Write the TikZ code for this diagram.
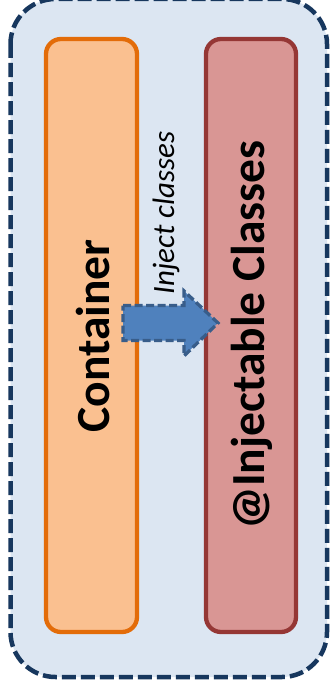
\documentclass[tikz,border=0pt]{standalone}
\usepackage{fontspec}
\setmainfont{Carlito}
\usetikzlibrary{calc}
\definecolor{outerfill}{HTML}{DCE6F2}
\definecolor{outerline}{HTML}{17375E}
\definecolor{contfill}{HTML}{FAC090}
\definecolor{contline}{HTML}{E36C09}
\definecolor{injfill}{HTML}{D99694}
\definecolor{injline}{HTML}{953735}
\definecolor{arrfill}{HTML}{4F81BD}
\definecolor{arrline}{HTML}{385D8A}
\begin{document}
\begin{tikzpicture}[x=1pt,y=-1pt,
  outerbox/.style={draw=outerline,fill=outerfill,line width=4.5pt,dash pattern=on 14pt off 5pt,rounded corners=45pt},
  colbox/.style={line width=4.3pt,rounded corners=15pt},
  bigtext/.style={rotate=90,font=\fontsize{47.5}{50}\selectfont\bfseries},
  smalltext/.style={rotate=90,font=\fontsize{31}{34}\selectfont\itshape}]
\useasboundingbox (0,0) rectangle (331,693);
\draw[outerbox] (10.5,-1) rectangle (327,677);
\draw[colbox,draw=contline,fill=contfill] (46,39) rectangle (137,632);
\draw[colbox,draw=injline,fill=injfill] (206,39) rectangle (296,632);
\node[bigtext] (cont) at (93,336) {Container};
\node[bigtext] (inj) at (252,335) {@Injectable Classes};
\node[smalltext] (lbl) at (166,213) {Inject classes};
\coordinate (tail) at (123,323);
\coordinate (tip) at (218,323);
\draw[fill=arrfill,draw=arrline,line width=3.3pt,dash pattern=on 8pt off 3.5pt,line join=miter]
  ($(tail)+(0,-17.5)$) -- (184,305.5) -- (184,291) -- (tip) -- (184,356) -- (184,340.5) -- ($(tail)+(0,17.5)$) -- cycle;
\end{tikzpicture}
\end{document}
